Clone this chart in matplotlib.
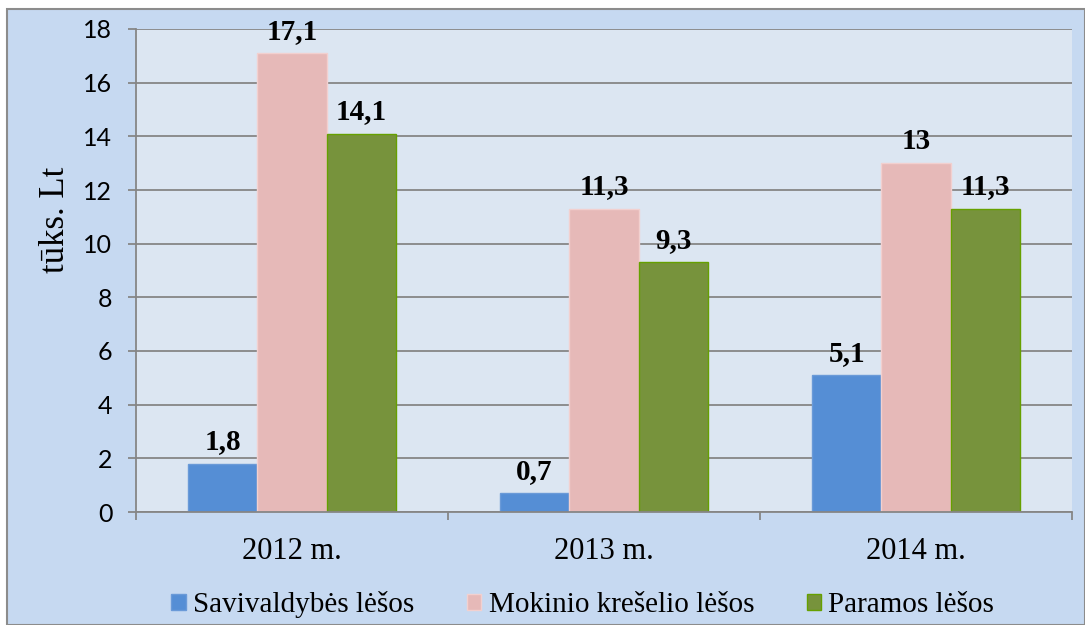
import numpy as np
import matplotlib
matplotlib.use("Agg")
import matplotlib.pyplot as plt
from matplotlib.patches import Rectangle

years = ["2012 m.", "2013 m.", "2014 m."]
series = ["Savivaldybės lėšos", "Mokinio krešelio lėšos", "Paramos lėšos"]
savivaldybes = [1.8, 0.7, 5.1]
mokinio = [17.1, 11.3, 13]
paramos = [14.1, 9.3, 11.3]
value_labels = [["1,8", "0,7", "5,1"], ["17,1", "11,3", "13"], ["14,1", "9,3", "11,3"]]

colors = ["#558ed5", "#e6b9b8", "#77933c"]
edges = ["#6a9ad8", "#f2d0cf", "#66a000"]
grid_c = "#868686"

fig = plt.figure(figsize=(10.85, 6.25), dpi=100)
fig.patch.set_facecolor("white")
# chart area background with grey frame
fig.patches.append(Rectangle((7/1085, 0), 1 - 7/1085, 1 - 9/625, transform=fig.transFigure,
                             facecolor="#c6d9f1", edgecolor="#8c8c8c", linewidth=1.5, zorder=-5))

ax = fig.add_axes([136/1085, 113/625, 936/1085, 483/625])
ax.set_zorder(2)
ax.set_facecolor("#dce6f2")

x = np.arange(len(years))
w = 0.2222
data = [savivaldybes, mokinio, paramos]
for i, vals in enumerate(data):
    pos = x + (i - 1) * w
    ax.bar(pos, vals, width=w, color=colors[i], edgecolor=edges[i], linewidth=1.0,
           label=series[i], zorder=3)
    for p, v, t in zip(pos, vals, value_labels[i]):
        ax.annotate(t, (p, v), xytext=(0, 6), textcoords="offset points", ha="center",
                    va="bottom", fontsize=21, fontweight="bold", family="Liberation Serif",
                    zorder=5)

ax.set_ylim(0, 18)
ax.set_yticks(np.arange(0, 19, 2))
ax.set_xlim(-0.5, 2.5)
ax.set_xticks(x)
ax.set_xticklabels(years, family="Liberation Serif", fontsize=22)
ax.set_xticks([-0.5, 0.5, 1.5, 2.5], minor=True)
ax.tick_params(axis="x", which="major", length=0, pad=18)
ax.tick_params(axis="x", which="minor", length=6, width=1.3, color=grid_c, direction="out")
ax.tick_params(axis="y", length=6, width=1.3, color=grid_c, pad=11, labelsize=18)
for lab in ax.get_yticklabels():
    lab.set_family("Lato")

ax.yaxis.grid(True, color=grid_c, linewidth=1.3, zorder=0)
ax.set_axisbelow(True)
for s in ["top", "right"]:
    ax.spines[s].set_visible(False)
for s in ["left", "bottom"]:
    ax.spines[s].set_color(grid_c)
    ax.spines[s].set_linewidth(1.3)
ax.spines["bottom"].set_zorder(4)

ax.set_ylabel("tūks. Lt", family="Liberation Serif", fontsize=25)
ax.yaxis.set_label_coords(-64/936, 0.605)

fig.legend(loc="center", bbox_to_anchor=(0.537, 0.032), ncol=3, frameon=False,
           prop={"family": "Liberation Serif", "size": 21}, handlelength=0.5,
           handleheight=0.5, handletextpad=0.25, columnspacing=1.8, borderpad=0)

fig.savefig("out.png", dpi=100)
